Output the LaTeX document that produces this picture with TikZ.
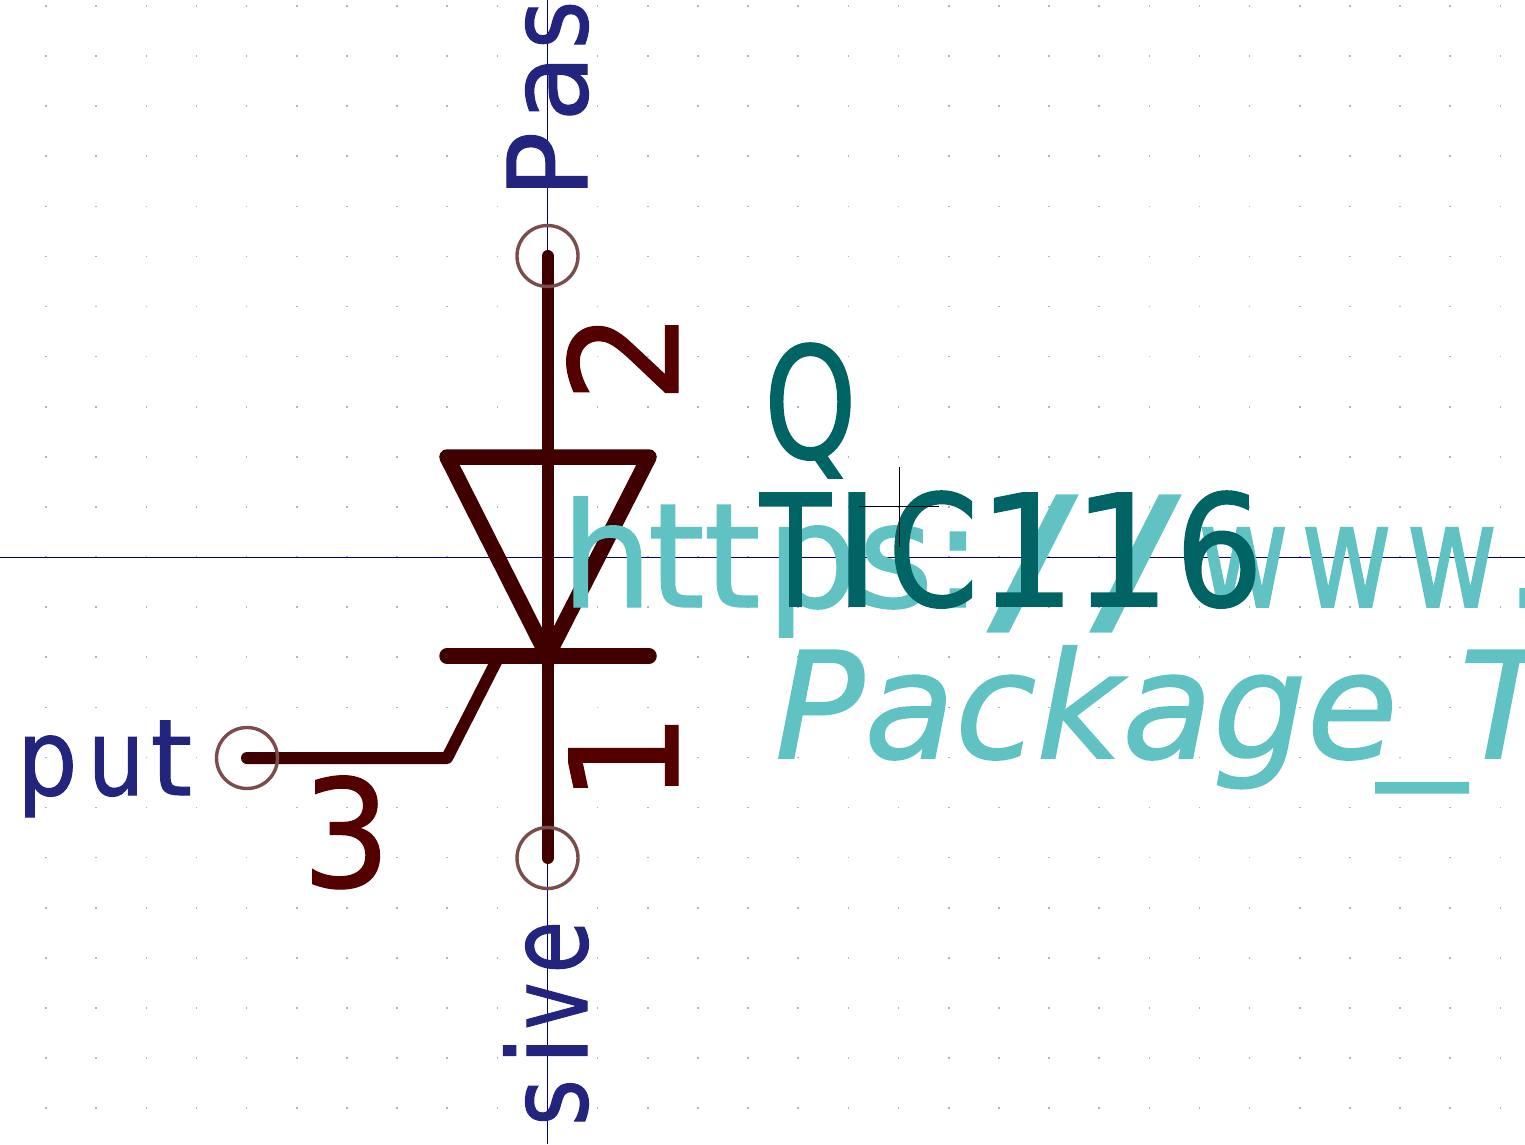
\documentclass[tikz,border=0pt]{standalone}
\usepackage{fontspec}
\setmainfont{DejaVu Sans}
\newcommand{\fsz}[1]{\fontsize{#1}{#1}\selectfont}
\newcommand{\bo}[1]{\addfontfeature{FakeBold=#1}}
\newcommand{\kk}[1]{\kern#1pt\relax}
\newcommand{\sx}[2]{\scalebox{#1}[1]{#2}}
\newcommand{\slsh}{\raisebox{-10pt}{\scalebox{1.9}[1.16]{/}}}
\definecolor{bodyc}{HTML}{400000}
\definecolor{numc}{HTML}{550000}
\definecolor{pinc}{HTML}{7B4C4C}
\definecolor{namec}{HTML}{23247D}
\definecolor{refc}{HTML}{006464}
\definecolor{faintc}{HTML}{60C2C2}
\definecolor{axisc}{HTML}{000080}
\definecolor{gridc}{HTML}{B4B4B4}
\tikzset{
  x=1pt,y=-1pt,
  txt/.style={inner sep=0pt,outer sep=0pt,anchor=base west},
  body/.style={draw=bodyc,line width=12pt,line cap=round,line join=round},
  gatew/.style={draw=bodyc,line width=12pt,line cap=round,line join=round},
  pinring/.style={draw=pinc,line width=3.4pt,circle,minimum size=61pt,inner sep=0pt},
}
\begin{document}
\begin{tikzpicture}
\useasboundingbox (0,0) rectangle (1525,1144);
\clip (0,0) rectangle (1525,1144);
\fill[white] (0,0) rectangle (1525,1144);
% grid
\foreach \i in {-10,...,19}{\foreach \j in {-11,...,11}{
  \fill[gridc] ({547.5+50.15*\i-.8},{557+50.1*\j-.8}) rectangle ++(1.6,1.6);
}}
% axes
\coordinate (axL) at (0,557); \coordinate (axR) at (1525,557);
\coordinate (axT) at (547.5,0); \coordinate (axB) at (547.5,1144);
\draw[axisc,line width=1pt] (axL)--(axR) (axT)--(axB);
% pin names
\node[txt,rotate=90,text=namec] (pas) at (587,198) {\fsz{110}\bo{1}P\kk{10}a\kk{5}\sx{.85}{s}};
\node[txt,rotate=90,text=namec] (sive) at (587,1126) {\fsz{110}\bo{1}\sx{.82}{s}\kk{13}i\kk{6}\sx{.72}{v}\kk{9}\sx{.78}{e}};
\node[txt,text=namec] (put) at (17,795) {\fsz{106}\bo{1}\sx{.9}{p}\kk{10}\sx{.85}{u}\kk{6}t};
% body
\coordinate (a2) at (547.5,256); \coordinate (a1) at (547.5,858);
\coordinate (g3) at (247,758); \coordinate (gk) at (447,758); \coordinate (ge) at (497,660);
\coordinate (tl) at (447,457); \coordinate (tr) at (649,457); \coordinate (ta) at (547.5,656);
\coordinate (bl) at (447,656); \coordinate (br) at (649,656);
\draw[body,line width=15.5pt] (tl)--(tr)--(ta)--cycle;
\draw[body,line width=15.5pt] (bl)--(br);
\draw[body] (a2)--(a1);
\draw[gatew] (g3)--(gk)--(ge);
\node[pinring] (p2) at (a2) {};
\node[pinring] (p1) at (a1) {};
\node[pinring] (p3) at (g3) {};
% pin numbers
\node[txt,rotate=90,text=numc] (n2) at (678,403) {\fsz{150}\bo{.8}\sx{.96}{2}};
\node[txt,rotate=90,text=numc] (n1) at (678,803) {\fsz{150}\bo{.8}\sx{.95}{1}};
\node[txt,text=numc] (n3) at (302,887) {\fsz{150}\bo{.8}\sx{.93}{3}};
% datasheet, footprint
\node[txt,text=faintc] (ds) at (561,607) {\fsz{145}{\bo{1}h\kk{-5}t\kk{-1}t\kk{6}p\kk{-1}s\kk{0}:}\kk{4}\slsh\kk{11}\slsh\kk{15}{\bo{1.2}\sx{.77}{w}\kk{12}\sx{.77}{w}\kk{14}\sx{.77}{w}\kk{7}.}};
\node[txt,text=faintc] (fp) at (775,758) {\fsz{148}\itshape\bo{1}Package\kk{-20}\sx{1.2}{\_}\kk{-7}T};
% reference, value
\node[txt,text=refc] (ref) at (764,458) {\fsz{155}\bo{1}\sx{.76}{Q}};
\node[txt,text=refc] (val) at (760,606) {\fsz{155}\bo{1}\sx{.75}{T}\kk{3}I\kk{8}\sx{.84}{C}\kk{-1}{1}\kk{-4}{1}\kk{4}\sx{.9}{6}};
% origin cross
\coordinate (cxL) at (859,506); \coordinate (cxR) at (939,506);
\coordinate (cxT) at (899,467); \coordinate (cxB) at (899,547);
\draw[black,line width=1pt] (cxL)--(cxR) (cxT)--(cxB);
\end{tikzpicture}
\end{document}
